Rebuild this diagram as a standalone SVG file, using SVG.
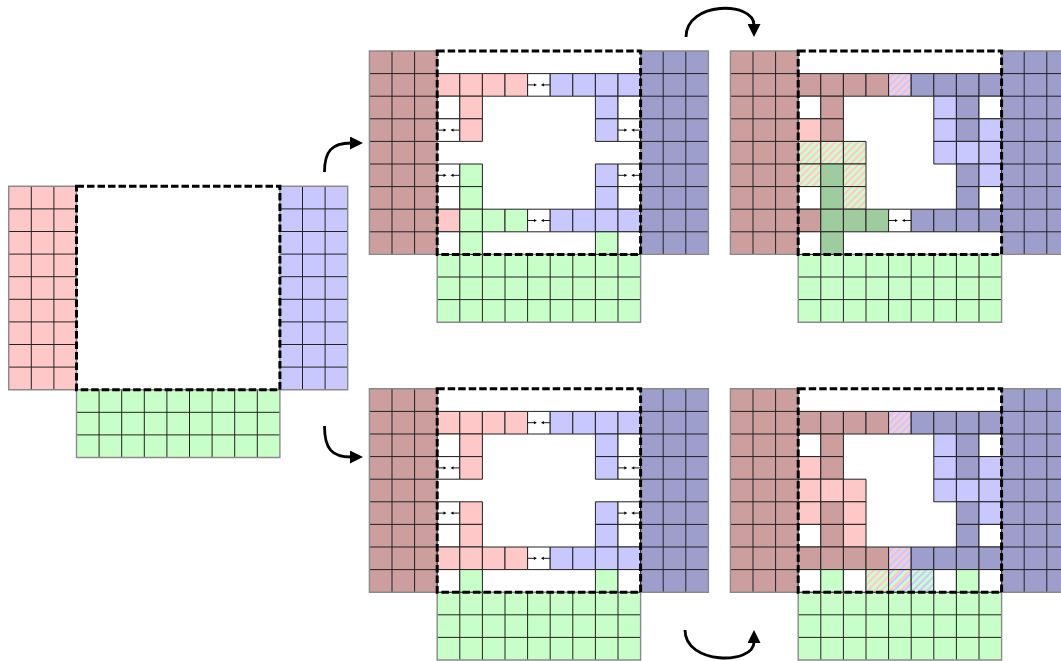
<svg xmlns="http://www.w3.org/2000/svg" xmlns:xlink="http://www.w3.org/1999/xlink" width="1061" height="661" viewBox="0 0 1061 661">
<style>
.lr{fill:#ffc8c8}.lb{fill:#c8c8ff}.lg{fill:#c8ffc8}
.dr{fill:#cc9e9e}.db{fill:#9e9ecc}.dg{fill:#9ecc9e}.w{fill:#ffffff}
.hrb{fill:url(#hRB)}.hrg{fill:url(#hRG)}.hbg{fill:url(#hBG)}.hrgb{fill:url(#hRGB)}
.grid{fill:none;stroke:#222;stroke-width:1;vector-effect:non-scaling-stroke}
.ob{fill:none;stroke:#8a8a8a;stroke-width:1.4;vector-effect:non-scaling-stroke}
.al{fill:none;stroke:#000;stroke-width:0.9;vector-effect:non-scaling-stroke}
.dash{fill:none;stroke:#000;stroke-width:3;stroke-dasharray:7.5 3}
.conn path{fill:none;stroke:#000;stroke-width:2.8;marker-end:url(#ah)}
</style>
<defs>
<marker id="ah" markerUnits="userSpaceOnUse" markerWidth="14" markerHeight="13" viewBox="0 0 14 13" refX="1" refY="6.5" orient="auto"><path d="M0,0L13,6.5L0,13Z" fill="#000"/></marker>
<pattern id="hRB" patternUnits="userSpaceOnUse" width="0.22" height="1" patternTransform="rotate(45)"><rect width="0.11" height="1" fill="#ffc8c8"/><rect x="0.11" width="0.11" height="1" fill="#c8c8ff"/></pattern>
<pattern id="hRG" patternUnits="userSpaceOnUse" width="0.22" height="1" patternTransform="rotate(45)"><rect width="0.11" height="1" fill="#ffc8c8"/><rect x="0.11" width="0.11" height="1" fill="#c8ffc8"/></pattern>
<pattern id="hBG" patternUnits="userSpaceOnUse" width="0.22" height="1" patternTransform="rotate(45)"><rect width="0.11" height="1" fill="#c8c8ff"/><rect x="0.11" width="0.11" height="1" fill="#c8ffc8"/></pattern>
<pattern id="hRGB" patternUnits="userSpaceOnUse" width="0.33" height="1" patternTransform="rotate(45)"><rect width="0.11" height="1" fill="#ffc8c8"/><rect x="0.11" width="0.11" height="1" fill="#c8c8ff"/><rect x="0.22" width="0.11" height="1" fill="#c8ffc8"/></pattern>
<rect id="u" width="1" height="1" stroke="#222" stroke-width="1" vector-effect="non-scaling-stroke"/>
<g id="ac"><rect width="1" height="1" fill="#fff" stroke="#222" stroke-width="1" vector-effect="non-scaling-stroke"/><path class="al" d="M0,0.5H0.32M1,0.5H0.68"/><path d="M0.41,0.5L0.28,0.43V0.57ZM0.59,0.5L0.72,0.43V0.57Z" fill="#000"/></g>
<g id="bL"><rect x="-3" width="3" height="9"/><path class="grid" d="M-2,0V9M-1,0V9M-3,1H0M-3,2H0M-3,3H0M-3,4H0M-3,5H0M-3,6H0M-3,7H0M-3,8H0"/><rect class="ob" x="-3" width="3" height="9"/></g>
<g id="bR"><rect x="9" width="3" height="9"/><path class="grid" d="M10,0V9M11,0V9M9,1H12M9,2H12M9,3H12M9,4H12M9,5H12M9,6H12M9,7H12M9,8H12"/><rect class="ob" x="9" width="3" height="9"/></g>
<g id="bB"><rect y="9" width="9" height="3"/><path class="grid" d="M1,9V12M2,9V12M3,9V12M4,9V12M5,9V12M6,9V12M7,9V12M8,9V12M0,10H9M0,11H9"/><rect class="ob" y="9" width="9" height="3"/></g>
</defs>
<rect width="1061" height="661" fill="#fff"/>

<g id="panel-start">
<g transform="translate(76.5,186.3) scale(22.6)">
<use href="#bL" class="lr"/><use href="#bR" class="lb"/><use href="#bB" class="lg"/>
</g>
<rect class="dash" x="76.5" y="186.3" width="203.4" height="203.4"/>
</g>

<g id="panel-top-mid">
<g transform="translate(437.2,51) scale(22.6)">
<use href="#bL" class="dr"/><use href="#bR" class="db"/><use href="#bB" class="lg"/>
<use href="#u" class="lr" x="0" y="1"/><use href="#u" class="lr" x="1" y="1"/><use href="#u" class="lr" x="2" y="1"/><use href="#u" class="lr" x="3" y="1"/><use href="#ac" x="4" y="1"/><use href="#u" class="lb" x="5" y="1"/><use href="#u" class="lb" x="6" y="1"/><use href="#u" class="lb" x="7" y="1"/><use href="#u" class="lb" x="8" y="1"/>
<use href="#u" class="w" x="0" y="2"/><use href="#u" class="lr" x="1" y="2"/><use href="#u" class="lb" x="7" y="2"/><use href="#u" class="w" x="8" y="2"/>
<use href="#ac" x="0" y="3"/><use href="#u" class="lr" x="1" y="3"/><use href="#u" class="lb" x="7" y="3"/><use href="#ac" x="8" y="3"/>
<use href="#ac" x="0" y="5"/><use href="#u" class="lg" x="1" y="5"/><use href="#u" class="lb" x="7" y="5"/><use href="#ac" x="8" y="5"/>
<use href="#u" class="w" x="0" y="6"/><use href="#u" class="lg" x="1" y="6"/><use href="#u" class="lb" x="7" y="6"/><use href="#u" class="w" x="8" y="6"/>
<use href="#u" class="lr" x="0" y="7"/><use href="#u" class="lg" x="1" y="7"/><use href="#u" class="lg" x="2" y="7"/><use href="#u" class="lg" x="3" y="7"/><use href="#ac" x="4" y="7"/><use href="#u" class="lb" x="5" y="7"/><use href="#u" class="lb" x="6" y="7"/><use href="#u" class="lb" x="7" y="7"/><use href="#u" class="lb" x="8" y="7"/>
<use href="#u" class="w" x="0" y="8"/><use href="#u" class="lg" x="1" y="8"/><use href="#u" class="lg" x="7" y="8"/><use href="#u" class="w" x="8" y="8"/>
</g>
<rect class="dash" x="437.2" y="51" width="203.4" height="203.4"/>
</g>

<g id="panel-top-right">
<g transform="translate(798.2,51) scale(22.6)">
<use href="#bL" class="dr"/><use href="#bR" class="db"/><use href="#bB" class="lg"/>
<use href="#u" class="dr" x="0" y="1"/><use href="#u" class="dr" x="1" y="1"/><use href="#u" class="dr" x="2" y="1"/><use href="#u" class="dr" x="3" y="1"/><use href="#u" class="hrb" x="4" y="1"/><use href="#u" class="db" x="5" y="1"/><use href="#u" class="db" x="6" y="1"/><use href="#u" class="db" x="7" y="1"/><use href="#u" class="db" x="8" y="1"/>
<use href="#u" class="w" x="0" y="2"/><use href="#u" class="dr" x="1" y="2"/><use href="#u" class="lb" x="6" y="2"/><use href="#u" class="db" x="7" y="2"/><use href="#u" class="w" x="8" y="2"/>
<use href="#u" class="lr" x="0" y="3"/><use href="#u" class="dr" x="1" y="3"/><use href="#u" class="lb" x="6" y="3"/><use href="#u" class="db" x="7" y="3"/><use href="#u" class="lb" x="8" y="3"/>
<use href="#u" class="hrg" x="0" y="4"/><use href="#u" class="hrg" x="1" y="4"/><use href="#u" class="hrg" x="2" y="4"/><use href="#u" class="lb" x="6" y="4"/><use href="#u" class="lb" x="7" y="4"/><use href="#u" class="lb" x="8" y="4"/>
<use href="#u" class="hrg" x="0" y="5"/><use href="#u" class="dg" x="1" y="5"/><use href="#u" class="hrg" x="2" y="5"/><use href="#u" class="db" x="7" y="5"/><use href="#u" class="lb" x="8" y="5"/>
<use href="#u" class="w" x="0" y="6"/><use href="#u" class="dg" x="1" y="6"/><use href="#u" class="hrg" x="2" y="6"/><use href="#u" class="db" x="7" y="6"/><use href="#u" class="w" x="8" y="6"/>
<use href="#u" class="dr" x="0" y="7"/><use href="#u" class="dg" x="1" y="7"/><use href="#u" class="dg" x="2" y="7"/><use href="#u" class="dg" x="3" y="7"/><use href="#ac" x="4" y="7"/><use href="#u" class="db" x="5" y="7"/><use href="#u" class="db" x="6" y="7"/><use href="#u" class="db" x="7" y="7"/><use href="#u" class="db" x="8" y="7"/>
<use href="#u" class="w" x="0" y="8"/><use href="#u" class="dg" x="1" y="8"/>
</g>
<rect class="dash" x="798.2" y="51" width="203.4" height="203.4"/>
</g>

<g id="panel-bottom-mid">
<g transform="translate(437.2,388.8) scale(22.6)">
<use href="#bL" class="dr"/><use href="#bR" class="db"/><use href="#bB" class="lg"/>
<use href="#u" class="lr" x="0" y="1"/><use href="#u" class="lr" x="1" y="1"/><use href="#u" class="lr" x="2" y="1"/><use href="#u" class="lr" x="3" y="1"/><use href="#ac" x="4" y="1"/><use href="#u" class="lb" x="5" y="1"/><use href="#u" class="lb" x="6" y="1"/><use href="#u" class="lb" x="7" y="1"/><use href="#u" class="lb" x="8" y="1"/>
<use href="#u" class="w" x="0" y="2"/><use href="#u" class="lr" x="1" y="2"/><use href="#u" class="lb" x="7" y="2"/><use href="#u" class="w" x="8" y="2"/>
<use href="#ac" x="0" y="3"/><use href="#u" class="lr" x="1" y="3"/><use href="#u" class="lb" x="7" y="3"/><use href="#ac" x="8" y="3"/>
<use href="#ac" x="0" y="5"/><use href="#u" class="lr" x="1" y="5"/><use href="#u" class="lb" x="7" y="5"/><use href="#ac" x="8" y="5"/>
<use href="#u" class="w" x="0" y="6"/><use href="#u" class="lr" x="1" y="6"/><use href="#u" class="lb" x="7" y="6"/><use href="#u" class="w" x="8" y="6"/>
<use href="#u" class="lr" x="0" y="7"/><use href="#u" class="lr" x="1" y="7"/><use href="#u" class="lr" x="2" y="7"/><use href="#u" class="lr" x="3" y="7"/><use href="#ac" x="4" y="7"/><use href="#u" class="lb" x="5" y="7"/><use href="#u" class="lb" x="6" y="7"/><use href="#u" class="lb" x="7" y="7"/><use href="#u" class="lb" x="8" y="7"/>
<use href="#u" class="w" x="0" y="8"/><use href="#u" class="lg" x="1" y="8"/><use href="#u" class="lg" x="7" y="8"/><use href="#u" class="w" x="8" y="8"/>
</g>
<rect class="dash" x="437.2" y="388.8" width="203.4" height="203.4"/>
</g>

<g id="panel-bottom-right">
<g transform="translate(798.2,388.8) scale(22.6)">
<use href="#bL" class="dr"/><use href="#bR" class="db"/><use href="#bB" class="lg"/>
<use href="#u" class="dr" x="0" y="1"/><use href="#u" class="dr" x="1" y="1"/><use href="#u" class="dr" x="2" y="1"/><use href="#u" class="dr" x="3" y="1"/><use href="#u" class="hrb" x="4" y="1"/><use href="#u" class="db" x="5" y="1"/><use href="#u" class="db" x="6" y="1"/><use href="#u" class="db" x="7" y="1"/><use href="#u" class="db" x="8" y="1"/>
<use href="#u" class="w" x="0" y="2"/><use href="#u" class="dr" x="1" y="2"/><use href="#u" class="lb" x="6" y="2"/><use href="#u" class="db" x="7" y="2"/><use href="#u" class="w" x="8" y="2"/>
<use href="#u" class="lr" x="0" y="3"/><use href="#u" class="dr" x="1" y="3"/><use href="#u" class="lb" x="6" y="3"/><use href="#u" class="db" x="7" y="3"/><use href="#u" class="lb" x="8" y="3"/>
<use href="#u" class="lr" x="0" y="4"/><use href="#u" class="lr" x="1" y="4"/><use href="#u" class="lr" x="2" y="4"/><use href="#u" class="lb" x="6" y="4"/><use href="#u" class="lb" x="7" y="4"/><use href="#u" class="lb" x="8" y="4"/>
<use href="#u" class="lr" x="0" y="5"/><use href="#u" class="dr" x="1" y="5"/><use href="#u" class="lr" x="2" y="5"/><use href="#u" class="db" x="7" y="5"/><use href="#u" class="lb" x="8" y="5"/>
<use href="#u" class="w" x="0" y="6"/><use href="#u" class="dr" x="1" y="6"/><use href="#u" class="lr" x="2" y="6"/><use href="#u" class="db" x="7" y="6"/><use href="#u" class="w" x="8" y="6"/>
<use href="#u" class="dr" x="0" y="7"/><use href="#u" class="dr" x="1" y="7"/><use href="#u" class="dr" x="2" y="7"/><use href="#u" class="dr" x="3" y="7"/><use href="#u" class="hrb" x="4" y="7"/><use href="#u" class="db" x="5" y="7"/><use href="#u" class="db" x="6" y="7"/><use href="#u" class="db" x="7" y="7"/><use href="#u" class="db" x="8" y="7"/>
<use href="#u" class="w" x="0" y="8"/><use href="#u" class="lg" x="1" y="8"/><use href="#u" class="w" x="2" y="8"/><use href="#u" class="hrg" x="3" y="8"/><use href="#u" class="hrgb" x="4" y="8"/><use href="#u" class="hbg" x="5" y="8"/><use href="#u" class="w" x="6" y="8"/><use href="#u" class="lg" x="7" y="8"/><use href="#u" class="w" x="8" y="8"/>
</g>
<rect class="dash" x="798.2" y="388.8" width="203.4" height="203.4"/>
</g>

<g id="connectors" class="conn">
<path d="M324.5,172 C324.5,151 332,143 351,143"/>
<path d="M324.5,426 C324.5,449 332,457 351,457"/>
<path d="M686,37 C686,1 754,1 754,25"/>
<path d="M685,630 C685,665 754,665 754,642"/>
</g>
</svg>
